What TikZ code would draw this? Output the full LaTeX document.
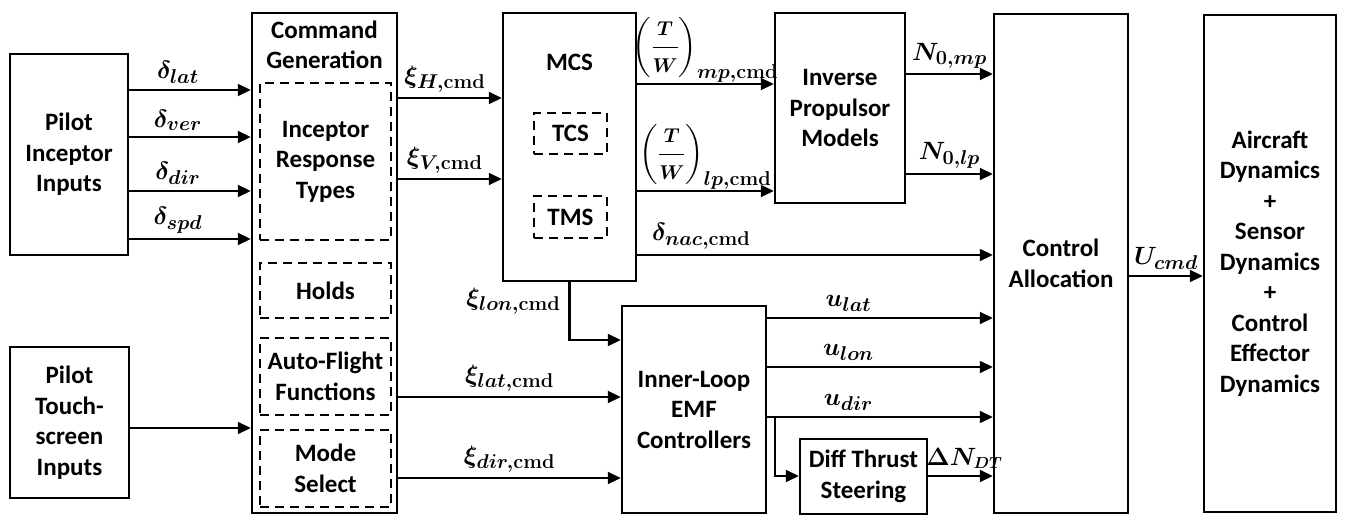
\documentclass[tikz,border=0pt]{standalone}
\usepackage{fix-cm}
\usepackage[no-math]{fontspec}
\setmainfont{Carlito}
\usepackage{amsmath,amssymb}
\DeclareMathSizes{25}{25}{20}{16}
\usetikzlibrary{arrows.meta}

\begin{document}
\begin{tikzpicture}[x=1pt,y=-1pt,>={Triangle[length=13pt,width=12pt]},line width=2.2pt,
  every node/.style={font=\fontsize{25}{30.5}\selectfont\bfseries\boldmath,align=center,inner sep=0pt},
  blk/.style={draw,line width=2.5pt},
  dblk/.style={draw,line width=2.5pt,dash pattern=on 9pt off 6pt}]
  \useasboundingbox (0,0) rectangle (1347,516);
  % blocks
  \node[blk,minimum width=118pt,minimum height=201pt] (pii) at (69,154.5) {Pilot\\Inceptor\\Inputs};
  \node[blk,minimum width=119pt,minimum height=151pt] (pts) at (69.5,422.5) {Pilot\\Touch-\\screen\\Inputs};
  \node[blk,minimum width=145pt,minimum height=500pt] (cg) at (324.5,263) {};
  \node (cgl) at (324.5,45) {Command\\Generation};
  \node[dblk,minimum width=131pt,minimum height=157pt] (irt) at (325.5,161.5) {Inceptor\\Response\\Types};
  \node[dblk,minimum width=131pt,minimum height=55pt] (hld) at (325.5,290.5) {Holds};
  \node[dblk,minimum width=131pt,minimum height=77pt] (afl) at (325.5,376.5) {Auto-Flight\\Functions};
  \node[dblk,minimum width=131pt,minimum height=77pt] (msel) at (325.5,468.5) {Mode\\Select};
  \node[blk,minimum width=133pt,minimum height=268pt] (mcs) at (569.5,147) {};
  \node (mcsl) at (569.5,62) {MCS};
  \node[dblk,minimum width=73pt,minimum height=41pt] (tcs) at (570.5,133.5) {TCS};
  \node[dblk,minimum width=73pt,minimum height=42pt] (tms) at (570.5,217) {TMS};
  \node[blk,minimum width=130pt,minimum height=190pt] (ipm) at (840,108) {Inverse\\Propulsor\\Models};
  \node[blk,minimum width=144pt,minimum height=207pt] (ilc) at (694,409.5) {Inner-Loop\\EMF\\Controllers};
  \node[blk,minimum width=127pt,minimum height=75pt] (dts) at (863.5,476.5) {Diff Thrust\\Steering};
  \node[blk,minimum width=134pt,minimum height=499pt] (ca) at (1061,263.5) {Control\\Allocation};
  \node[blk,minimum width=132pt,minimum height=497pt] (dyn) at (1270,263.5) {Aircraft\\Dynamics\\+\\Sensor\\Dynamics\\+\\Control\\Effector\\Dynamics};
  % pilot inputs
  \draw[->] (pii.east |- 0,90) -- node[above=5pt,pos=0.4] {$\delta_{lat}$} (cg.west |- 0,90);
  \draw[->] (pii.east |- 0,137) -- node[above=5pt,pos=0.4] {$\delta_{ver}$} (cg.west |- 0,137);
  \draw[->] (pii.east |- 0,191) -- node[above=5pt,pos=0.4] {$\delta_{dir}$} (cg.west |- 0,191);
  \draw[->] (pii.east |- 0,239) -- node[above=5pt,pos=0.4] {$\delta_{spd}$} (cg.west |- 0,239);
  \draw[->] (pts.east |- 0,428) -- (cg.west |- 0,428);
  % commands
  \draw[->] (cg.east |- 0,98) -- node[above=5pt,pos=0.45] {$\xi_{H,\mathbf{cmd}}$} (mcs.west |- 0,98);
  \draw[->] (cg.east |- 0,179) -- node[above=5pt,pos=0.45] {$\xi_{V,\mathbf{cmd}}$} (mcs.west |- 0,179);
  \draw[->] (cg.east |- 0,397) -- node[above=5pt] {$\xi_{lat,\mathbf{cmd}}$} (ilc.west |- 0,397);
  \draw[->] (cg.east |- 0,478) -- node[above=5pt] {$\xi_{dir,\mathbf{cmd}}$} (ilc.west |- 0,478);
  \draw[->] (mcs.south) -- node[left=8pt,pos=0.33] {$\xi_{lon,\mathbf{cmd}}$} (mcs.south |- 0,340) -- (ilc.west |- 0,340);
  % MCS outputs
  \draw[->] (mcs.east |- 0,84) -- node[above=0.5pt] {$\biggl(\dfrac{\scriptstyle T}{\scriptstyle W}\biggr)_{mp,\mathbf{cmd}}$} (ipm.west |- 0,84);
  \draw[->] (mcs.east |- 0,191) -- node[above=0.5pt] {$\biggl(\dfrac{\scriptstyle T}{\scriptstyle W}\biggr)_{lp,\mathbf{cmd}}$} (ipm.west |- 0,191);
  \draw[->] (mcs.east |- 0,255) -- node[above=5pt,pos=0.18] {$\delta_{nac,\mathbf{cmd}}$} (ca.west |- 0,255);
  \draw[->] (ipm.east |- 0,74) -- node[above=5pt] {$N_{0,mp}$} (ca.west |- 0,74);
  \draw[->] (ipm.east |- 0,174) -- node[above=5pt] {$N_{0,lp}$} (ca.west |- 0,174);
  % inner loop outputs
  \draw[->] (ilc.east |- 0,318) -- node[above=5pt,pos=0.36] {$u_{lat}$} (ca.west |- 0,318);
  \draw[->] (ilc.east |- 0,367) -- node[above=5pt,pos=0.36] {$u_{lon}$} (ca.west |- 0,367);
  \draw[->] (ilc.east |- 0,417) -- node[above=5pt,pos=0.36] {$u_{dir}$} (ca.west |- 0,417);
  \coordinate (br) at ([xshift=8pt]ilc.east |- 0,417);
  \draw[->] (br) |- (dts.west |- 0,476);
  \draw[->] (dts.east |- 0,476) -- node[above=6pt,pos=0.56] {$\Delta N_{\scriptscriptstyle DT}$} (ca.west |- 0,476);
  \draw[->] (ca.east |- 0,276) -- node[above=5pt] {$U_{cmd}$} (dyn.west |- 0,276);
\end{tikzpicture}
\end{document}
